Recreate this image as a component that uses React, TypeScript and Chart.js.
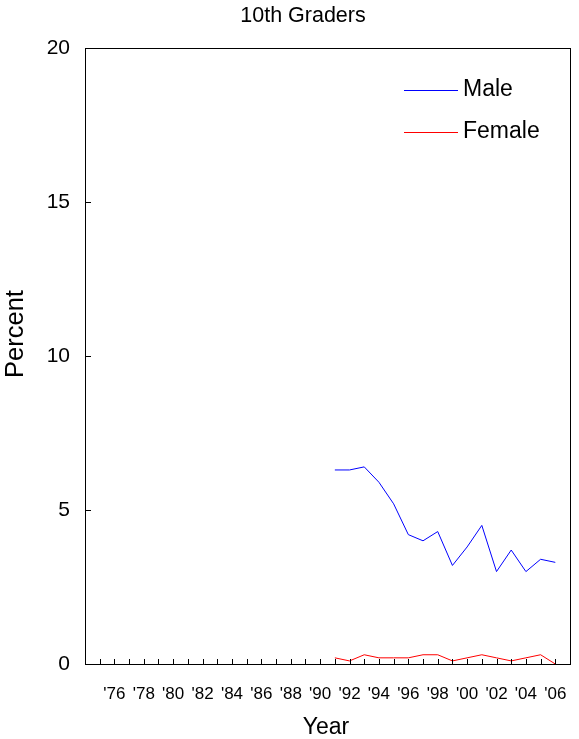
import React, { useEffect, useRef } from "react";
import { Chart, registerables } from "chart.js";

Chart.register(...registerables);

const years = [1991, 1992, 1993, 1994, 1995, 1996, 1997, 1998, 1999, 2000, 2001, 2002, 2003, 2004, 2005, 2006];
const male = [6.3, 6.3, 6.4, 5.9, 5.2, 4.2, 4.0, 4.3, 3.2, 3.8, 4.5, 3.0, 3.7, 3.0, 3.4, 3.3];
const female = [0.2, 0.1, 0.3, 0.2, 0.2, 0.2, 0.3, 0.3, 0.1, 0.2, 0.3, 0.2, 0.1, 0.2, 0.3, 0.0];
const xMin = 1974;
const xMax = 2007;
const firstLabelYear = 1976;
const yTicks = [0, 5, 10, 15, 20];
const chartTitle = "10th Graders";
const yTitle = "Percent";
const xTitle = "Year";
const seriesNames = ["Male", "Female"];
const seriesColors = ["#0000FF", "#FF0000"];

const FONT = "'Liberation Sans', Arial, sans-serif";

const decorPlugin = {
  id: "decor",
  afterDraw(chart: any) {
    const { ctx, chartArea } = chart;
    const xs = chart.scales.x;
    const ys = chart.scales.y;
    ctx.save();
    // frame
    ctx.strokeStyle = "#000";
    ctx.lineWidth = 1;
    ctx.strokeRect(
      Math.round(chartArea.left) + 0.5,
      Math.round(chartArea.top) + 0.5,
      Math.round(chartArea.right - chartArea.left),
      Math.round(chartArea.bottom - chartArea.top)
    );
    // inward x ticks
    ctx.beginPath();
    for (let yr = xMin + 1; yr < xMax; yr++) {
      const px = Math.round(xs.getPixelForValue(yr)) + 0.5;
      ctx.moveTo(px, chartArea.bottom);
      ctx.lineTo(px, chartArea.bottom - 5);
    }
    // inward y ticks
    for (const v of yTicks) {
      const py = Math.round(ys.getPixelForValue(v)) + 0.5;
      ctx.moveTo(chartArea.left, py);
      ctx.lineTo(chartArea.left + 6, py);
    }
    ctx.stroke();
    // title
    ctx.fillStyle = "#000";
    ctx.font = `21.5px ${FONT}`;
    ctx.textAlign = "center";
    ctx.textBaseline = "middle";
    ctx.fillText(chartTitle, 303, 16);
    // axis titles
    ctx.font = `23px ${FONT}`;
    ctx.fillText(xTitle, 326, 728);
    ctx.save();
    ctx.translate(16, 334);
    ctx.rotate(-Math.PI / 2);
    ctx.font = `25.5px ${FONT}`;
    ctx.fillText(yTitle, 0, 0);
    ctx.restore();
    // legend
    ctx.font = `23px ${FONT}`;
    ctx.textAlign = "left";
    const legendY = [90, 132];
    seriesNames.forEach((name, i) => {
      ctx.strokeStyle = seriesColors[i];
      ctx.beginPath();
      ctx.moveTo(404, legendY[i] + 0.5);
      ctx.lineTo(458, legendY[i] + 0.5);
      ctx.stroke();
      ctx.fillStyle = "#000";
      ctx.fillText(name, 463, legendY[i]);
    });
    ctx.restore();
  },
};

export default function App() {
  const ref = useRef<HTMLCanvasElement>(null);
  useEffect(() => {
    document.body.style.margin = "0";
    if (!ref.current) return;
    const chart = new Chart(ref.current, {
      type: "line",
      data: {
        datasets: [
          {
            label: seriesNames[0],
            data: years.map((x, i) => ({ x, y: male[i] })),
            borderColor: seriesColors[0],
            borderWidth: 1,
            pointRadius: 0,
            tension: 0,
          },
          {
            label: seriesNames[1],
            data: years.map((x, i) => ({ x, y: female[i] })),
            borderColor: seriesColors[1],
            borderWidth: 1,
            pointRadius: 0,
            tension: 0,
          },
        ],
      },
      options: {
        responsive: false,
        animation: false,
        layout: { autoPadding: false, padding: { top: 48, right: 9, bottom: 0, left: 0 } },
        plugins: { legend: { display: false }, title: { display: false }, tooltip: { enabled: false } },
        scales: {
          x: {
            type: "linear",
            min: xMin,
            max: xMax,
            grid: { display: false, drawTicks: false },
            border: { display: false },
            ticks: {
              stepSize: 1,
              autoSkip: false,
              maxRotation: 0,
              minRotation: 0,
              padding: 20,
              color: "#000",
              font: { family: FONT, size: 17 },
              callback: (v: any) => {
                const n = Number(v);
                if (n >= firstLabelYear && n % 2 === 0 && n < xMax) return "'" + String(n).slice(2);
                return "";
              },
            },
            afterFit: (s: any) => {
              s.height = 75;
              s.paddingLeft = 0;
              s.paddingRight = 0;
            },
          },
          y: {
            min: 0,
            max: 20,
            grid: { display: false, drawTicks: false },
            border: { display: false },
            ticks: {
              stepSize: 5,
              padding: 15,
              color: "#000",
              font: { family: FONT, size: 21 },
            },
            afterFit: (s: any) => {
              s.width = 85;
              s.paddingTop = 0;
              s.paddingBottom = 0;
            },
          },
        },
      },
      plugins: [decorPlugin],
    });
    return () => chart.destroy();
  }, []);
  return <canvas ref={ref} width={579} height={739} style={{ display: "block" }} />;
}
